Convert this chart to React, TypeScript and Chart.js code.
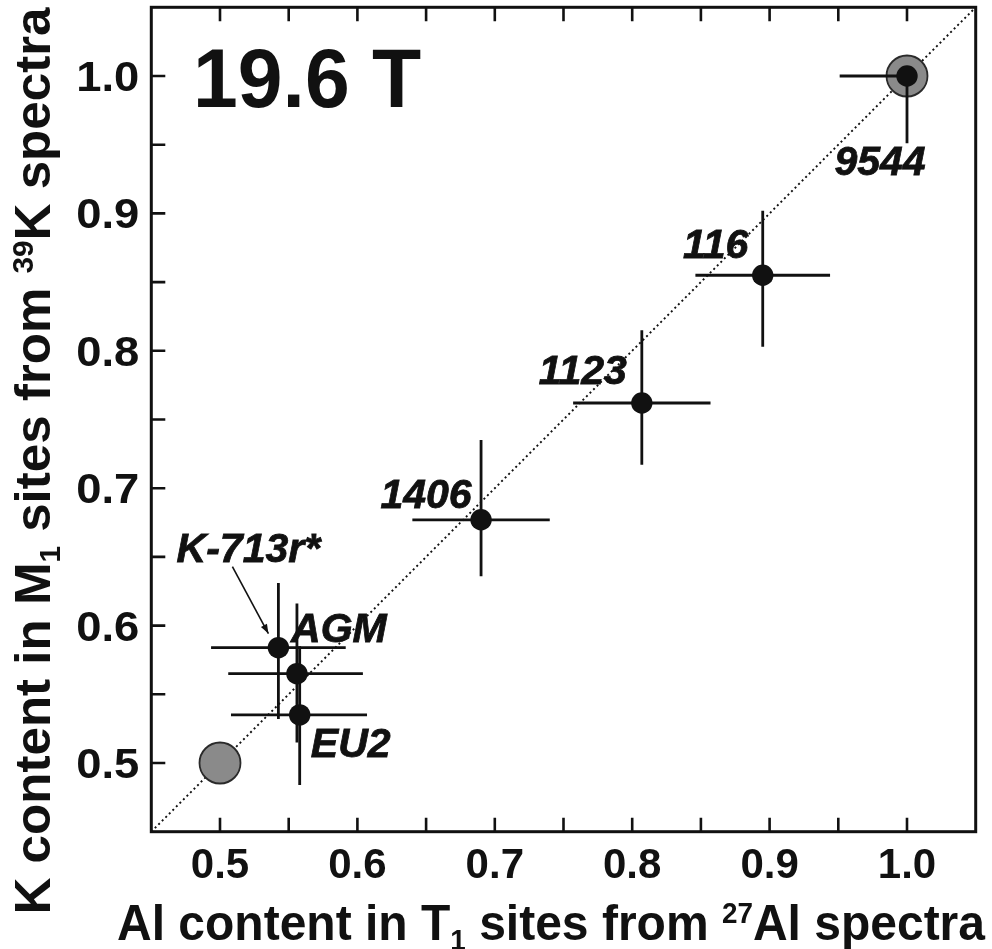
import React, { useEffect, useRef } from 'react';
import { Chart, registerables } from 'chart.js';

Chart.register(...registerables);

// Samples: Al fraction in T1 (27Al NMR) vs K fraction in M1 (39K NMR)
const sampleNames = ['9544', '116', '1123', '1406', 'K-713r*', 'AGM', 'EU2'];
const alT1 = [1.0, 0.895, 0.807, 0.69, 0.5425, 0.556, 0.558];
const kM1 = [1.0, 0.855, 0.762, 0.677, 0.584, 0.565, 0.535];
const alErrMinus = [0.049, 0.049, 0.05, 0.05, 0.049, 0.05, 0.05];
const alErrPlus = [0, 0.049, 0.05, 0.05, 0.049, 0.048, 0.049];
const kErrMinus = [0.049, 0.052, 0.045, 0.041, 0.052, 0.05, 0.051];
const kErrPlus = [0, 0.047, 0.053, 0.058, 0.047, 0.051, 0.05];

// Ideal end-member references
const refAl = [0.5, 1.0];
const refK = [0.5, 1.0];

// Axis range and ticks
const axisMin = 0.45;
const axisMax = 1.05;
const xTickLabels = ['0.5', '0.6', '0.7', '0.8', '0.9', '1.0'];
const yTickLabels = ['0.5', '0.6', '0.7', '0.8', '0.9', '1.0'];
const minorTicks = [0.55, 0.65, 0.75, 0.85, 0.95];

const fieldLabel = '19.6 T';

// Label placement relative to each sample marker (pixels)
const labelOffsets: [number, number][] = [
  [-27, 99],
  [-47, -17],
  [-59, -19],
  [-55, -12],
  [-30, -86],
  [42, -32],
  [51, 42],
];

const FONT = '"Liberation Sans", Arial, Helvetica, sans-serif';

type Part = { t: string; k: 'n' | 'sub' | 'sup' };

const xTitle: Part[] = [
  { t: 'Al content in T', k: 'n' },
  { t: '1', k: 'sub' },
  { t: ' sites from ', k: 'n' },
  { t: '27', k: 'sup' },
  { t: 'Al spectra', k: 'n' },
];
const yTitle: Part[] = [
  { t: 'K content in M', k: 'n' },
  { t: '1', k: 'sub' },
  { t: ' sites from ', k: 'n' },
  { t: '39', k: 'sup' },
  { t: 'K spectra', k: 'n' },
];

function drawRich(
  ctx: CanvasRenderingContext2D,
  parts: Part[],
  size: number,
  targetWidth: number
) {
  const small = Math.round(size * 0.58);
  const fontFor = (k: Part['k']) => `bold ${k === 'n' ? size : small}px ${FONT}`;
  let total = 0;
  const widths = parts.map((p) => {
    ctx.font = fontFor(p.k);
    const w = ctx.measureText(p.t).width;
    total += w;
    return w;
  });
  const sx = targetWidth / total;
  ctx.save();
  ctx.scale(sx, 1);
  let x = -total / 2;
  ctx.textAlign = 'left';
  ctx.textBaseline = 'alphabetic';
  parts.forEach((p, i) => {
    ctx.font = fontFor(p.k);
    const dy = p.k === 'sub' ? size * 0.2 : p.k === 'sup' ? -size * 0.34 : 0;
    ctx.fillText(p.t, x, dy);
    x += widths[i];
  });
  ctx.restore();
}

const framePlugin = {
  id: 'frameAndText',
  beforeDatasetDraw(chart: any, args: any) {
    if (args.index !== 0) return;
    const { ctx, scales } = chart;
    const xs = scales.x;
    const ys = scales.y;
    ctx.save();
    ctx.strokeStyle = '#111';
    ctx.lineWidth = 2.8;
    ctx.lineCap = 'butt';
    for (let i = 0; i < alT1.length; i++) {
      const px = xs.getPixelForValue(alT1[i]);
      const py = ys.getPixelForValue(kM1[i]);
      ctx.beginPath();
      ctx.moveTo(xs.getPixelForValue(alT1[i] - alErrMinus[i]), py);
      ctx.lineTo(xs.getPixelForValue(alT1[i] + alErrPlus[i]), py);
      ctx.moveTo(px, ys.getPixelForValue(kM1[i] - kErrMinus[i]));
      ctx.lineTo(px, ys.getPixelForValue(kM1[i] + kErrPlus[i]));
      ctx.stroke();
    }
    ctx.restore();
  },
  afterDraw(chart: any) {
    const { ctx, chartArea, scales } = chart;
    const xs = scales.x;
    const ys = scales.y;
    const { left, right, top, bottom } = chartArea;
    ctx.save();

    // frame
    ctx.strokeStyle = '#111';
    ctx.lineWidth = 3;
    ctx.strokeRect(left, top, right - left, bottom - top);

    // inward ticks: bottom, top and left
    const tickLen = 14;
    ctx.lineWidth = 2.6;
    const allTicks = [...xTickLabels.map(Number), ...minorTicks];
    ctx.beginPath();
    allTicks.forEach((v) => {
      const px = xs.getPixelForValue(v);
      ctx.moveTo(px, bottom);
      ctx.lineTo(px, bottom - tickLen);
      ctx.moveTo(px, top);
      ctx.lineTo(px, top + tickLen);
    });
    [...yTickLabels.map(Number), ...minorTicks].forEach((v) => {
      const py = ys.getPixelForValue(v);
      ctx.moveTo(left, py);
      ctx.lineTo(left + tickLen, py);
    });
    ctx.stroke();

    // tick labels
    ctx.fillStyle = '#111';
    ctx.font = `bold 42px ${FONT}`;
    ctx.textBaseline = 'alphabetic';
    ctx.textAlign = 'center';
    xTickLabels.forEach((s) => {
      ctx.fillText(s, xs.getPixelForValue(Number(s)), bottom + 46);
    });
    ctx.textAlign = 'right';
    yTickLabels.forEach((s) => {
      ctx.save();
      ctx.translate(left - 12, ys.getPixelForValue(Number(s)) + 15);
      ctx.scale(1.08, 1);
      ctx.fillText(s, 0, 0);
      ctx.restore();
    });

    // axis titles
    ctx.save();
    ctx.translate(551, 940);
    drawRich(ctx, xTitle, 50, 868);
    ctx.restore();

    ctx.save();
    ctx.translate(50, 461);
    ctx.rotate(-Math.PI / 2);
    drawRich(ctx, yTitle, 50, 907);
    ctx.restore();

    // field strength
    ctx.save();
    ctx.font = `bold 83px ${FONT}`;
    ctx.textAlign = 'left';
    ctx.translate(193, 107);
    ctx.scale(0.97, 1);
    ctx.fillText(fieldLabel, 0, 0);
    ctx.restore();

    // sample labels
    ctx.font = `italic bold 41px ${FONT}`;
    ctx.textAlign = 'center';
    ctx.lineWidth = 0.8;
    sampleNames.forEach((name, i) => {
      const px = xs.getPixelForValue(alT1[i]);
      const py = ys.getPixelForValue(kM1[i]);
      ctx.fillText(name, px + labelOffsets[i][0], py + labelOffsets[i][1]);
      ctx.strokeText(name, px + labelOffsets[i][0], py + labelOffsets[i][1]);
    });

    // pointer from K-713r* label to its marker
    const k = sampleNames.indexOf('K-713r*');
    const kx = xs.getPixelForValue(alT1[k]);
    const ky = ys.getPixelForValue(kM1[k]);
    const x0 = kx - 46;
    const y0 = ky - 81;
    const x1 = kx - 10;
    const y1 = ky - 14;
    ctx.lineWidth = 1.6;
    ctx.beginPath();
    ctx.moveTo(x0, y0);
    ctx.lineTo(x1, y1);
    ctx.stroke();
    const ang = Math.atan2(y1 - y0, x1 - x0);
    const ah = 10;
    ctx.beginPath();
    ctx.moveTo(x1, y1);
    ctx.lineTo(x1 - ah * Math.cos(ang - 0.35), y1 - ah * Math.sin(ang - 0.35));
    ctx.lineTo(x1 - ah * Math.cos(ang + 0.35), y1 - ah * Math.sin(ang + 0.35));
    ctx.closePath();
    ctx.fill();

    ctx.restore();
  },
};

export default function App() {
  const canvasRef = useRef<HTMLCanvasElement | null>(null);

  useEffect(() => {
    const canvas = canvasRef.current;
    if (!canvas) return;
    const chart = new Chart(canvas, {
      type: 'scatter',
      data: {
        datasets: [
          {
            label: 'samples',
            data: alT1.map((x, i) => ({ x, y: kM1[i] })),
            backgroundColor: '#111',
            borderColor: '#111',
            borderWidth: 0,
            pointRadius: 10.7,
          },
          {
            label: 'references',
            data: refAl.map((x, i) => ({ x, y: refK[i] })),
            backgroundColor: '#8a8a8a',
            borderColor: '#2a2a2a',
            borderWidth: 1.8,
            pointRadius: 20.5,
          },
          {
            type: 'line',
            label: 'one-to-one',
            data: [
              { x: axisMin, y: axisMin },
              { x: axisMax, y: axisMax },
            ],
            borderColor: '#111',
            borderWidth: 1.9,
            borderDash: [2, 3],
            pointRadius: 0,
            fill: false,
          } as any,
        ],
      },
      options: {
        responsive: false,
        animation: false,
        events: [],
        layout: {
          autoPadding: false,
          padding: { left: 151.3, right: 16.3, top: 7.3, bottom: 117.3 },
        },
        plugins: {
          legend: { display: false },
          tooltip: { enabled: false },
        },
        scales: {
          x: { type: 'linear', min: axisMin, max: axisMax, display: false },
          y: { type: 'linear', min: axisMin, max: axisMax, display: false },
        },
      },
      plugins: [framePlugin],
    });
    return () => chart.destroy();
  }, []);

  return (
    <div style={{ position: 'absolute', left: 0, top: 0, width: 992, height: 949, background: '#fff' }}>
      <canvas ref={canvasRef} width={992} height={949} style={{ display: 'block' }} />
    </div>
  );
}
